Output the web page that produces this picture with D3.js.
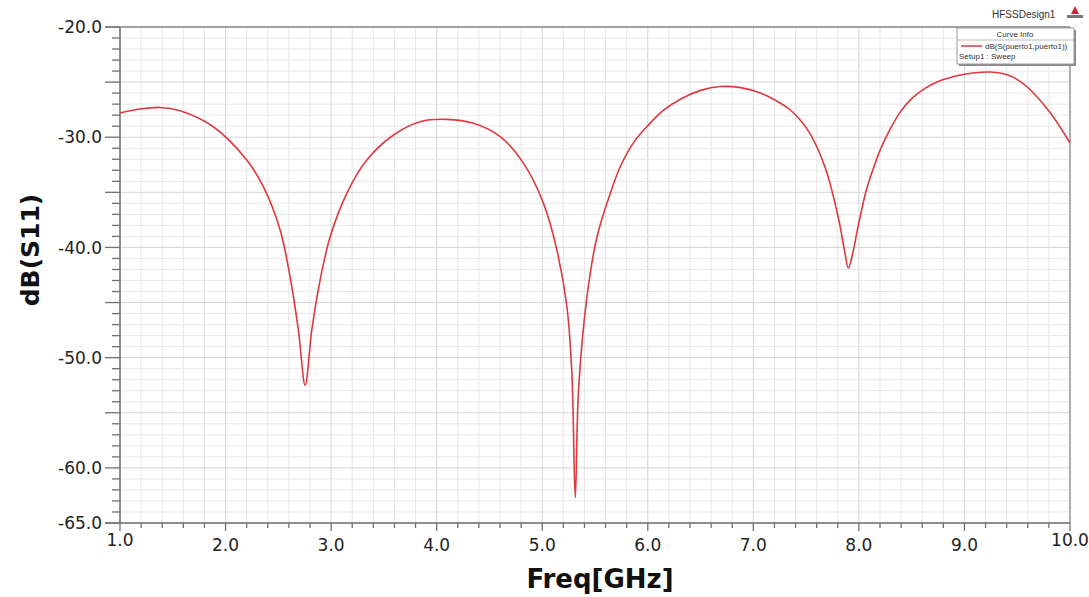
<!DOCTYPE html>
<html>
<head>
<meta charset="utf-8">
<script src="https://cdn.jsdelivr.net/npm/d3@7"></script>
<style>
  body { margin: 0; background: #fff; }
  svg { display: block; }
  .tick-label { font-family: "DejaVu Sans", sans-serif; font-size: 17px; fill: #222; }
  .axis-title { font-family: "DejaVu Sans", sans-serif; font-weight: bold; fill: #111; }
  .legend-text { font-family: "Liberation Sans", Arial, sans-serif; fill: #333; }
</style>
</head>
<body>
<svg id="chart" width="1089" height="597"></svg>
<script>
// Frequency (GHz) and return loss (dB)
var freqGHz = [1.000, 1.190, 1.379, 1.569, 1.884, 2.201, 2.358, 2.517, 2.611, 2.690, 2.754,
               2.817, 2.896, 2.991, 3.149, 3.338, 3.591, 3.844, 4.097, 4.349, 4.602, 4.823,
               5.012, 5.139, 5.234, 5.281, 5.313, 5.344, 5.424, 5.519, 5.645, 5.739, 5.872,
               6.005, 6.150, 6.308, 6.500, 6.687, 6.880, 7.066, 7.200, 7.351, 7.450, 7.540, 7.682,
               7.806, 7.863, 7.900, 7.938, 7.995, 8.071, 8.138, 8.204, 8.300, 8.393, 8.500, 8.630,
               8.750, 8.962, 9.100, 9.246, 9.350, 9.436, 9.530, 9.626, 9.815, 10.000];
var s11dB = [-27.80, -27.44, -27.30, -27.60, -29.05, -32.07, -34.49, -38.42, -42.66, -47.49, -52.50,
             -47.49, -42.96, -39.03, -35.09, -32.07, -29.80, -28.59, -28.38, -28.74, -29.95, -32.37,
             -36.00, -40.24, -45.38, -51.42, -62.70, -52.94, -44.47, -39.03, -35.09, -32.68, -30.40,
             -28.90, -27.55, -26.55, -25.75, -25.40, -25.50, -25.99, -26.60, -27.53, -28.50, -29.71, -32.79,
             -37.33, -40.24, -41.87, -40.69, -37.97, -34.79, -32.80, -31.10, -29.20, -27.70, -26.50, -25.55,
             -24.95, -24.36, -24.15, -24.08, -24.20, -24.45, -24.95, -25.72, -27.80, -30.52];

var xLabelTicks = [1, 2, 3, 4, 5, 6, 7, 8, 9, 10];
var yLabelTicks = [-20, -30, -40, -50, -60, -65];
var yMajorTicks = [-20, -25, -30, -35, -40, -45, -50, -55, -60, -65];

var svg = d3.select("#chart");
// plot box in pixels (window.top is reserved, so use a prefix)
var plotLeft = 120, plotRight = 1070, plotTop = 27, plotBottom = 523;

var x = d3.scaleLinear().domain([1, 10]).range([plotLeft, plotRight]);
var y = d3.scaleLinear().domain([-20, -65]).range([plotTop, plotBottom]);

var xMinor = d3.range(0, 46).map(function (i) { return 1 + i * 0.2; });
var yMinor = d3.range(0, 46).map(function (i) { return -20 - i; });

// grid
var grid = svg.append("g");
grid.selectAll("line.vgrid").data(xMinor).enter().append("line")
    .attr("x1", d => x(d)).attr("x2", d => x(d))
    .attr("y1", plotTop).attr("y2", plotBottom)
    .attr("stroke", (d, i) => i % 5 === 0 ? "#d6d6d6" : "#e6e6e6")
    .attr("stroke-width", 1);
grid.selectAll("line.hgrid").data(yMinor).enter().append("line")
    .attr("x1", plotLeft).attr("x2", plotRight)
    .attr("y1", d => y(d)).attr("y2", d => y(d))
    .attr("stroke", (d, i) => i % 5 === 0 ? "#d6d6d6" : "#e8e8e8")
    .attr("stroke-width", 1);

// frame
svg.append("line").attr("x1", plotRight).attr("x2", plotRight).attr("y1", plotTop).attr("y2", plotBottom)
    .attr("stroke", "#9a9a9a").attr("stroke-width", 1.5);
svg.append("line").attr("x1", plotLeft - 15).attr("x2", plotRight).attr("y1", plotTop).attr("y2", plotTop)
    .attr("stroke", "#888").attr("stroke-width", 1.5);

// y axis with 1 dB minor ticks and 5 dB major ticks
var yAxis = svg.append("g");
yAxis.append("line").attr("x1", plotLeft).attr("x2", plotLeft).attr("y1", plotTop).attr("y2", plotBottom)
    .attr("stroke", "#707070").attr("stroke-width", 1.5);
yAxis.selectAll("line.tk").data(yMinor).enter().append("line")
    .attr("x1", d => yMajorTicks.indexOf(d) >= 0 ? plotLeft - 15 : plotLeft - 8)
    .attr("x2", plotLeft)
    .attr("y1", d => y(d)).attr("y2", d => y(d))
    .attr("stroke", "#707070").attr("stroke-width", 1.3);
yAxis.selectAll("text").data(yLabelTicks).enter().append("text")
    .attr("class", "tick-label")
    .attr("x", plotLeft - 18)
    .attr("y", d => y(d))
    .attr("dy", "0.36em")
    .attr("text-anchor", "end")
    .text(d => d3.format(".1f")(d).replace("−", "-"));

// x axis with 0.2 GHz minor ticks
var xAxis = svg.append("g");
xAxis.append("line").attr("x1", plotLeft - 15).attr("x2", plotRight).attr("y1", plotBottom).attr("y2", plotBottom)
    .attr("stroke", "#707070").attr("stroke-width", 1.5);
xAxis.selectAll("line.tk").data(xMinor).enter().append("line")
    .attr("x1", d => x(d)).attr("x2", d => x(d))
    .attr("y1", plotBottom)
    .attr("y2", (d, i) => i % 5 === 0 ? plotBottom + 8 : plotBottom + 5)
    .attr("stroke", "#707070").attr("stroke-width", 1.3);
xAxis.selectAll("text").data(xLabelTicks).enter().append("text")
    .attr("class", "tick-label")
    .attr("x", d => x(d))
    .attr("y", (d, i) => (i === 0 || i === xLabelTicks.length - 1) ? plotBottom + 23 : plotBottom + 28)
    .attr("text-anchor", "middle")
    .text(d => d3.format(".1f")(d));

// axis titles
svg.append("text").attr("class", "axis-title")
    .attr("transform", "translate(39,250) rotate(-90)")
    .attr("text-anchor", "middle")
    .style("font-size", "25px")
    .text("dB(S11)");
svg.append("text").attr("class", "axis-title")
    .attr("x", 600).attr("y", 588)
    .attr("text-anchor", "middle")
    .style("font-size", "26px")
    .text("Freq[GHz]");

// the S11 trace
var line = d3.line()
    .x((d, i) => x(freqGHz[i]))
    .y(d => y(d))
    .curve(d3.curveCatmullRom.alpha(0.5));
svg.append("path")
    .datum(s11dB)
    .attr("d", line)
    .attr("fill", "none")
    .attr("stroke", "#dc3a3f")
    .attr("stroke-width", 1.6);

// HFSS title + curve info box
svg.append("text").attr("class", "legend-text")
    .attr("x", 992).attr("y", 18)
    .style("font-size", "10px")
    .text("HFSSDesign1");
var logo = svg.append("g").attr("transform", "translate(1075,6)");
logo.append("path").attr("d", "M0,0 L-4,8 L4,8 Z").attr("fill", "#c8282d");
logo.append("rect").attr("x", -8).attr("y", 9).attr("width", 16).attr("height", 3).attr("fill", "#777");

var box = svg.append("g").attr("transform", "translate(957,28)");
box.append("rect").attr("x", 2).attr("y", 2).attr("width", 117).attr("height", 36).attr("fill", "#8a8a8a");
box.append("rect").attr("width", 117).attr("height", 36).attr("fill", "#fff").attr("stroke", "#999");
box.append("text").attr("class", "legend-text")
    .attr("x", 58).attr("y", 9).attr("text-anchor", "middle")
    .style("font-size", "8px").text("Curve Info");
box.append("line").attr("x1", 0).attr("x2", 117).attr("y1", 12).attr("y2", 12).attr("stroke", "#bbb");
box.append("line").attr("x1", 4).attr("x2", 25).attr("y1", 18).attr("y2", 18)
    .attr("stroke", "#dc3a3f").attr("stroke-width", 1.5);
box.append("text").attr("class", "legend-text")
    .attr("x", 28).attr("y", 21)
    .style("font-size", "8px").text("dB(S(puerto1,puerto1))");
box.append("text").attr("class", "legend-text")
    .attr("x", 2).attr("y", 31)
    .style("font-size", "8px").text("Setup1 : Sweep");
</script>
</body>
</html>
